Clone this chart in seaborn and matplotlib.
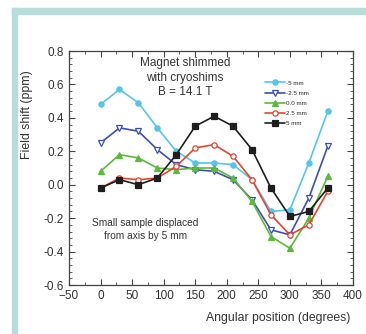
import numpy as np
import pandas as pd
import matplotlib
matplotlib.use("Agg")
import matplotlib.pyplot as plt
from matplotlib.patches import Rectangle
from matplotlib.ticker import MultipleLocator, AutoMinorLocator
import seaborn as sns

# angular positions (degrees)
angles = [0, 30, 60, 90, 120, 150, 180, 210, 240, 270, 300, 330, 360]

# field shift (ppm) per displacement
shift_m5 = [0.48, 0.57, 0.49, 0.34, 0.20, 0.13, 0.13, 0.12, 0.03, -0.16, -0.15, 0.13, 0.44]
shift_m25 = [0.25, 0.34, 0.32, 0.21, 0.12, 0.09, 0.08, 0.03, -0.09, -0.27, -0.30, -0.08, 0.23]
shift_0 = [0.08, 0.18, 0.16, 0.10, 0.09, 0.10, 0.10, 0.04, -0.10, -0.31, -0.38, -0.20, 0.05]
shift_p25 = [-0.02, 0.04, 0.03, 0.04, 0.11, 0.22, 0.24, 0.17, 0.03, -0.18, -0.30, -0.24, -0.04]
shift_p5 = [-0.02, 0.03, 0.00, 0.04, 0.18, 0.35, 0.41, 0.35, 0.21, -0.02, -0.19, -0.16, -0.02]

labels = ["-5 mm", "-2.5 mm", "0.0 mm", "2.5 mm", "5 mm"]
series = [shift_m5, shift_m25, shift_0, shift_p25, shift_p5]

colors = ["#55c6ea", "#3c4fb3", "#5cb93a", "#e5442f", "#1e1e1e"]
markers = ["o", "v", "^", "o", "s"]
open_marker = [False, True, False, True, False]

frames = []
for lab, vals in zip(labels, series):
  frames.append(pd.DataFrame({"angle": angles, "shift": vals, "disp": lab}))
df = pd.concat(frames, ignore_index=True)

sns.set_style("ticks")
plt.rcParams["font.family"] = ["Liberation Sans", "DejaVu Sans"]

fig = plt.figure(figsize=(3.66, 3.34), dpi=100)
ax = fig.add_axes([0.1885, 0.1467, 0.776, 0.7006])

# teal L-shaped frame at top/left of the picture
teal = "#b8dcd8"
fig.patches.append(Rectangle((12 / 366, 0), 5 / 366, 326 / 334, transform=fig.transFigure,
                             color=teal, zorder=0))
fig.patches.append(Rectangle((12 / 366, 320 / 334), 1 - 12 / 366, 6 / 334, transform=fig.transFigure,
                             color=teal, zorder=0))

for lab, col, mk, op in zip(labels, colors, markers, open_marker):
  sub = df[df["disp"] == lab]
  sns.lineplot(x="angle", y="shift", data=sub, ax=ax, color=col, marker=mk,
               markersize=3.8, markerfacecolor="white" if op else col,
               markeredgecolor=col, markeredgewidth=0.9, linewidth=1.2, label=lab)

ax.set_xlim(-50, 400)
ax.set_ylim(-0.6, 0.8)
ax.xaxis.set_major_locator(MultipleLocator(50))
ax.xaxis.set_minor_locator(AutoMinorLocator(2))
ax.yaxis.set_major_locator(MultipleLocator(0.2))
ax.yaxis.set_minor_locator(AutoMinorLocator(5))
ax.yaxis.set_major_formatter(matplotlib.ticker.FormatStrFormatter("%.1f"))
ax.tick_params(which="both", direction="in", top=True, right=True, colors="#444444",
               labelcolor="#333333", labelsize=8.5)
ax.tick_params(which="major", length=4, width=0.8)
ax.tick_params(which="minor", length=2, width=0.6)
for sp in ax.spines.values():
  sp.set_color("#444444")
  sp.set_linewidth(0.9)

ax.set_xlabel("Angular position (degrees)", fontsize=8.8, color="#333333", loc="right")
ax.set_ylabel("Field shift (ppm)", fontsize=8.8, color="#333333")
ax.yaxis.set_label_coords(-0.128, 0.727)
ax.xaxis.set_label_coords(0.99, -0.115)

ax.text(134, 0.64, "Magnet shimmed\nwith cryoshims\nB = 14.1 T", ha="center", va="center",
        fontsize=8.5, color="#333333", linespacing=1.25)
ax.text(71, -0.27, "Small sample displaced\nfrom axis by 5 mm", ha="center", va="center",
        fontsize=7.3, color="#333333", linespacing=1.35)

ax.legend(loc="upper left", bbox_to_anchor=(0.69, 0.875), frameon=False, fontsize=4.5,
          handlelength=3.2, handletextpad=0.2, labelspacing=0.75, borderaxespad=0, borderpad=0)

fig.savefig("out.png", dpi=100)
